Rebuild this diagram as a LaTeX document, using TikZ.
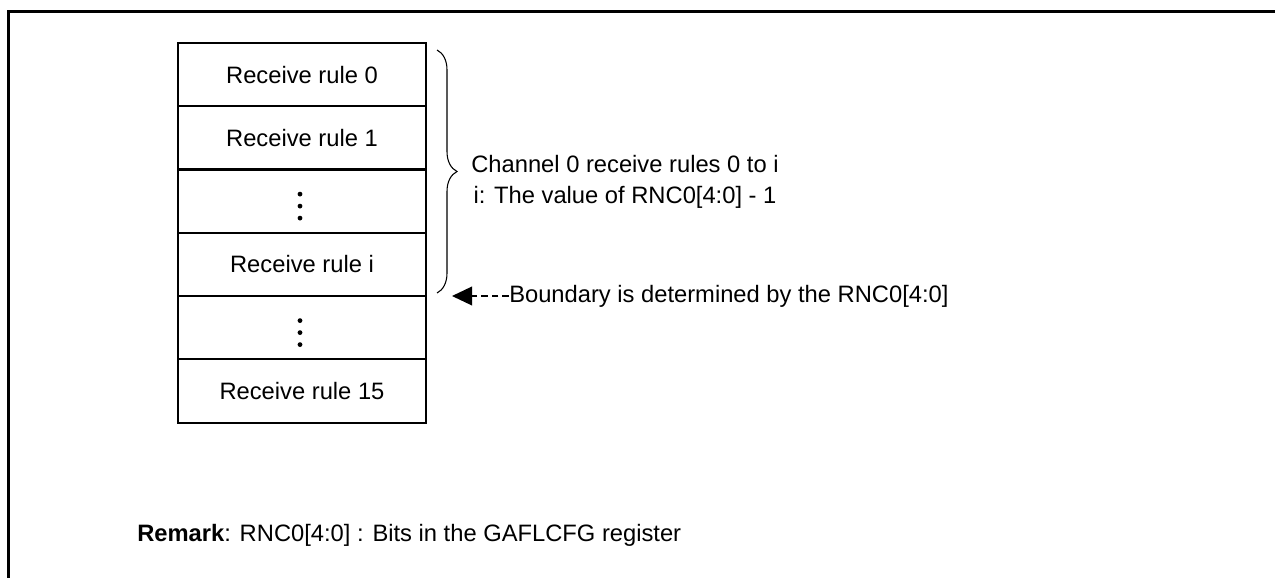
\documentclass[tikz,border=0pt]{standalone}
\usepackage{fontspec}
\setmainfont{Liberation Sans}
\usetikzlibrary{decorations.pathreplacing,arrows.meta}

\begin{document}
\begin{tikzpicture}[x=0.75pt,y=-0.75pt,
  rulebox/.style={draw,line width=1.5pt,minimum width=186pt,minimum height=47.44pt,
    inner sep=0pt,font=\fontsize{17.8}{21}\selectfont},
  txt/.style={inner sep=0pt,font=\fontsize{17.8}{23.25}\selectfont},
  vdot/.style={circle,fill,inner sep=0pt,minimum size=3.6pt},
  bracestyle/.style={line width=0.8pt,decorate,decoration={brace,amplitude=15pt}},
  dashedarrow/.style={line width=1.1pt,dash pattern=on 5pt off 3pt,
    -{Triangle[length=15pt,width=14pt]}}]
\useasboundingbox (0,0) rectangle (1275,578);

% outer frame
\draw[line width=2.25pt] (8,590) -- (8,11) -- (1290,11);

% receive rule table
\node[rulebox] (r0)  at (302,74.6)  {Receive rule 0};
\node[rulebox] (r1)  at (302,137.9) {Receive rule 1};
\node[rulebox] (d1)  at (302,201.1) {};
\node[rulebox] (ri)  at (302,264.4) {Receive rule i};
\node[rulebox] (d2)  at (302,327.6) {};
\node[rulebox] (r15) at (302,390.9) {Receive rule 15};

% vertical ellipses
\foreach \row in {d1,d2}{
  \foreach \dy in {-7,5,17}{
    \node[vdot] at ([shift={(-2,\dy)}]\row.center) {};
  }
}

% brace over rules 0 to i
\coordinate (btop) at (437,50);
\coordinate (bbot) at (437,293);
\draw[bracestyle] (btop) -- (bbot);

\node[txt,align=center] (chan) at (625,182)
  {Channel 0 receive rules 0 to i\\i: The value of RNC0[4:0] - 1};

% boundary marker
\coordinate (bmark) at (452,296);
\node[txt,anchor=west] (bnd) at (509,296) {Boundary is determined by the RNC0[4:0]};
\draw[dashedarrow] (bnd.west) -- (bmark);

% remark
\node[txt,anchor=base west] (remark) at (137,541)
  {\textbf{Remark}: RNC0[4:0] : Bits in the GAFLCFG register};
\end{tikzpicture}
\end{document}
